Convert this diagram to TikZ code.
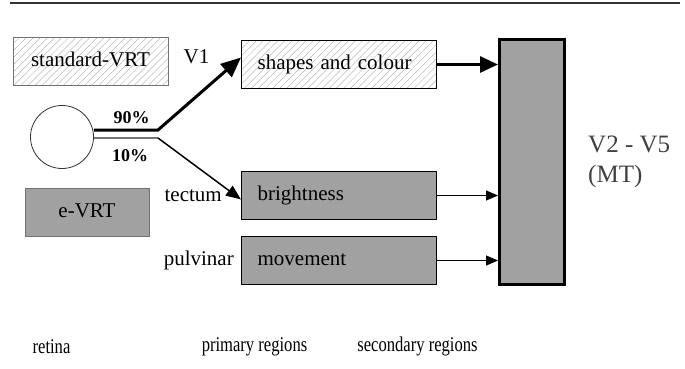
\documentclass[tikz,border=0pt]{standalone}
\usepackage{fontspec}
\setmainfont{Liberation Serif}
\usetikzlibrary{arrows.meta,positioning,patterns.meta}

\begin{document}
\begin{tikzpicture}[x=1pt,y=-1pt,
    boxfont/.style={font=\fontsize{21}{24}\selectfont},
    grey/.style={fill=black!37},
    hatched/.style={pattern={Lines[angle=45,distance=5pt,line width=0.5pt]},
      pattern color=black!28},
    area/.style={boxfont,
      draw=black,
      line width=1.2pt,
      anchor=west,
      text width=163pt,
      inner xsep=16pt,
      inner ysep=0pt,
      minimum height=48pt,
      text height=14pt,
      text depth=4pt,
      align=left},
    vrt/.style={boxfont,
      draw=black!55,
      line width=0.8pt,
      minimum height=48pt,
      text height=14pt,
      text depth=4pt},
    lbl/.style={boxfont, inner sep=0pt},
    region/.style={font=\fontsize{21}{23}\selectfont, inner sep=0pt,
      transform shape, xscale=0.79}]
  \useasboundingbox (0,0) rectangle (685,368);
  % top rule
  \draw[line width=1.5pt, black!80] (10,3) -- (680,3);
  % the retina side
  \node[vrt, hatched, minimum width=155pt] (stdvrt) at (90.5,61) {standard-VRT};
  \node[circle, draw=black!80, line width=0.8pt, minimum size=63pt] (eye) at (62,137) {};
  \node[vrt, grey, minimum width=124pt] (evrt) at (87,212) {e-VRT};
  % the primary regions
  \node[area, hatched] (shapes) at (241,64.5) {shapes and colour};
  \node[area, grey] (bright) at (241,195.5) {brightness};
  \node[area, grey] (move) at (241,260.5) {movement};
  % the secondary regions
  \node[draw=black,
    line width=3pt,
    grey,
    minimum width=65pt,
    minimum height=245pt] (v2v5) at (532,162) {};
  \node[lbl,
    right=22pt of v2v5,
    align=left,
    text=black!75,
    font=\fontsize{25}{30}\selectfont] (mt) {V2 - V5\\(MT)};
  % labels of the paths
  \node[lbl] (v1) at (196.5,57) {V1};
  \node[lbl, font=\bfseries\fontsize{18}{20}\selectfont] (ninety) at (131.5,118) {90\%};
  \node[lbl, font=\bfseries\fontsize{18}{20}\selectfont] (ten) at (130,155.5) {10\%};
  \node[lbl, left=19pt of bright] (tectum) {tectum};
  \node[lbl, left=7pt of move] (pulvinar) {pulvinar};
  % names of the columns
  \node[region] (retina) at (51.5,347) {retina};
  \node[region] (primary) at (254.5,347) {primary regions};
  \node[region] (secondary) at (417.5,346) {secondary regions};
  % connect the regions
  \coordinate (split) at (158,130);
  \coordinate (splitlow) at (158,138);
  \draw[line width=3pt, line join=miter, -{Triangle[length=20pt,width=17pt]}]
    ([yshift=7pt]eye.east) -- (split) -- ([yshift=7pt]shapes.west);
  \draw[line width=2pt, black!55] ([yshift=-1pt]eye.east) -- (splitlow);
  \draw[line width=1.5pt, -{Triangle[length=15pt,width=12pt]}]
    (splitlow) -- ([yshift=-4pt]bright.west);
  \draw[line width=3pt, -{Triangle[length=18pt,width=16pt]}]
    (shapes.east) -- (shapes.east -| v2v5.west);
  \draw[line width=1pt, -{Triangle[length=12pt,width=10pt]}]
    (bright.east) -- (bright.east -| v2v5.west);
  \draw[line width=1pt, -{Triangle[length=12pt,width=10pt]}]
    (move.east) -- (move.east -| v2v5.west);
\end{tikzpicture}
\end{document}
